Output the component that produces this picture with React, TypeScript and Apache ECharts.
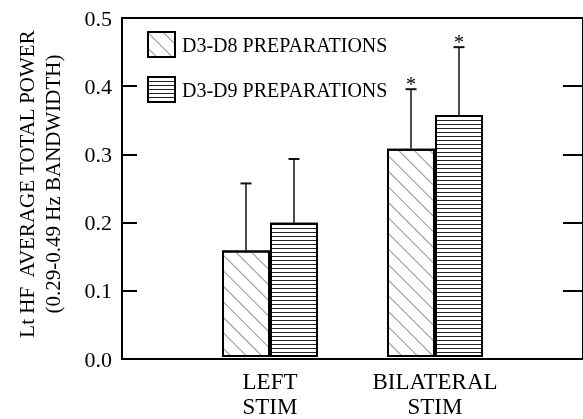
import React, { useEffect, useRef } from "react";
import * as echarts from "echarts";

const categories = ["LEFT\nSTIM", "BILATERAL\nSTIM"];
const seriesNames = ["D3-D8 PREPARATIONS", "D3-D9 PREPARATIONS"];
const d8Means = [0.157, 0.307];
const d9Means = [0.198, 0.357];
const d8Sd = [0.099, 0.088];
const d9Sd = [0.094, 0.1];
const significant = [false, true];
const yTitle = ["Lt HF\u00a0 AVERAGE TOTAL POWER", "(0.29-0.49 Hz BANDWIDTH)"];

const FONT = "Liberation Serif";

export default function App() {
  const ref = useRef<HTMLDivElement>(null);
  useEffect(() => {
    if (!ref.current) return;
    const chart = echarts.init(ref.current, undefined, { renderer: "svg" });
    const BAR_W = 48;
    const errData: number[][] = [];
    [d8Means, d9Means].forEach((means, s) => {
      const sds = s === 0 ? d8Sd : d9Sd;
      means.forEach((m, i) => errData.push([i, m, sds[i], s, significant[i] ? 1 : 0]));
    });
    const option: any = {
      animation: false,
      grid: [
        { left: 122, top: 18, width: 466, height: 341, show: true, borderColor: "#000", borderWidth: 2, backgroundColor: "transparent" },
        { left: 187.5, top: 18, width: 330, height: 341 },
      ],
      xAxis: [
        { gridIndex: 0, type: "value", min: 0, max: 1, show: false },
        {
          gridIndex: 1,
          type: "category",
          data: categories,
          axisLine: { show: false },
          axisTick: { show: false },
          axisLabel: { fontFamily: FONT, fontSize: 23, color: "#000", lineHeight: 25, margin: 12 },
        },
      ],
      yAxis: [
        {
          gridIndex: 0,
          type: "value",
          min: 0,
          max: 0.5,
          interval: 0.1,
          position: "left",
          axisLine: { show: false },
          splitLine: { show: false },
          axisTick: { show: true, inside: true, length: 15, lineStyle: { color: "#000", width: 2 } },
          axisLabel: { fontFamily: FONT, fontSize: 22, color: "#000", margin: 10, formatter: (v: number) => v.toFixed(1) },
        },
        {
          gridIndex: 0,
          type: "value",
          min: 0,
          max: 0.5,
          interval: 0.1,
          position: "right",
          axisLine: { show: false },
          splitLine: { show: false },
          axisTick: { show: true, inside: true, length: 20, lineStyle: { color: "#000", width: 2 } },
          axisLabel: { show: false },
        },
        { gridIndex: 1, type: "value", min: 0, max: 0.5, show: false },
      ],
      legend: {
        orient: "vertical",
        left: 147,
        top: 31,
        padding: 0,
        itemWidth: 27,
        itemHeight: 25,
        itemGap: 18,
        icon: "rect",
        textStyle: { fontFamily: FONT, fontSize: 20, color: "#000", padding: [0, 0, 0, 2] },
        data: seriesNames,
      },
      graphic: [
        {
          type: "text",
          x: 40,
          y: 184,
          rotation: Math.PI / 2,
          style: {
            text: yTitle.join("\n"),
            fontFamily: FONT,
            fontSize: 21,
            lineHeight: 26,
            fill: "#000",
            align: "center",
            verticalAlign: "middle",
          },
        },
      ],
      series: [
        {
          name: seriesNames[0],
          type: "bar",
          xAxisIndex: 1,
          yAxisIndex: 2,
          barWidth: BAR_W,
          barGap: "0%",
          data: d8Means,
          itemStyle: {
            color: "#fff",
            borderColor: "#000",
            borderWidth: 2,
            decal: {
              symbol: "rect",
              symbolSize: 1,
              color: "rgba(90,90,90,0.65)",
              backgroundColor: "#fff",
              dashArrayX: [1, 0],
              dashArrayY: [1, 10],
              rotation: Math.PI / 4,
            },
          },
        },
        {
          name: seriesNames[1],
          type: "bar",
          xAxisIndex: 1,
          yAxisIndex: 2,
          barWidth: BAR_W,
          barGap: "0%",
          data: d9Means,
          itemStyle: {
            color: "#fff",
            borderColor: "#000",
            borderWidth: 2,
            decal: {
              symbol: "rect",
              symbolSize: 1,
              color: "#222",
              backgroundColor: "#fff",
              dashArrayX: [1, 0],
              dashArrayY: [1, 3],
              rotation: 0,
            },
          },
        },
        {
          type: "custom",
          xAxisIndex: 1,
          yAxisIndex: 2,
          silent: true,
          z: 5,
          data: errData,
          renderItem: (params: any, api: any) => {
            const cat = api.value(0);
            const mean = api.value(1);
            const sd = api.value(2);
            const s = api.value(3);
            const sig = api.value(4);
            const base = api.coord([cat, mean]);
            const top = api.coord([cat, mean + sd]);
            const x = base[0] + (s === 0 ? -BAR_W / 2 : BAR_W / 2);
            const children: any[] = [
              { type: "line", shape: { x1: x, y1: base[1], x2: x, y2: top[1] }, style: { stroke: "#111", lineWidth: 1.5 } },
              { type: "line", shape: { x1: x - 5.5, y1: top[1], x2: x + 5.5, y2: top[1] }, style: { stroke: "#111", lineWidth: 2 } },
            ];
            if (sig) {
              children.push({
                type: "text",
                x: x,
                y: top[1] - 5,
                style: { text: "*", fontFamily: FONT, fontSize: 20, fill: "#000", align: "center", verticalAlign: "middle" },
              });
            }
            return { type: "group", children };
          },
        },
      ],
    };
    chart.setOption(option);
    return () => chart.dispose();
  }, []);
  return <div ref={ref} style={{ position: "fixed", left: 0, top: 0, width: 583, height: 419 }} />;
}
